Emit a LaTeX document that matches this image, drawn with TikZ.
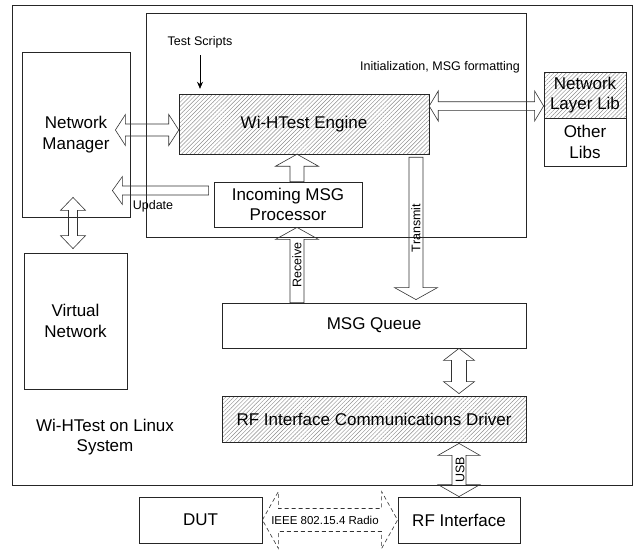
\documentclass[tikz,border=0pt]{standalone}
\usepackage{fontspec}
\setsansfont{Liberation Sans}
\usetikzlibrary{arrows.meta, positioning, calc, patterns.meta}

\newcommand{\bigfont}{\fontsize{17}{20.5}\selectfont}
\newcommand{\smallfont}{\fontsize{12.5}{15}\selectfont}

% outlined block arrows: [style]{from}{to}{shaft half width}{head half width}{head length}
\newcommand{\fatsingle}[6][]{%
  \draw[fat,#1] let \p1=(#2), \p2=(#3), \n1={atan2(\y2-\y1,\x2-\x1)} in
    ($(\p1)+(\n1+90:#4)$) -- ($(\p2)+(\n1+180:#6)+(\n1+90:#4)$) -- ($(\p2)+(\n1+180:#6)+(\n1+90:#5)$) -- (\p2)
    -- ($(\p2)+(\n1+180:#6)+(\n1-90:#5)$) -- ($(\p2)+(\n1+180:#6)+(\n1-90:#4)$) -- ($(\p1)+(\n1-90:#4)$) -- cycle;}
\newcommand{\fatdouble}[6][]{%
  \draw[fat,#1] let \p1=(#2), \p2=(#3), \n1={atan2(\y2-\y1,\x2-\x1)} in
    (\p1) -- ($(\p1)+(\n1:#6)+(\n1+90:#5)$) -- ($(\p1)+(\n1:#6)+(\n1+90:#4)$)
    -- ($(\p2)+(\n1+180:#6)+(\n1+90:#4)$) -- ($(\p2)+(\n1+180:#6)+(\n1+90:#5)$) -- (\p2)
    -- ($(\p2)+(\n1+180:#6)+(\n1-90:#5)$) -- ($(\p2)+(\n1+180:#6)+(\n1-90:#4)$)
    -- ($(\p1)+(\n1:#6)+(\n1-90:#4)$) -- ($(\p1)+(\n1:#6)+(\n1-90:#5)$) -- cycle;}

\begin{document}
\begin{tikzpicture}[
    x=1pt, y=-1pt,
    font=\sffamily\bigfont,
    >=Stealth,
    % Node styles
    block/.style={rectangle, draw=black!85, line width=0.8pt, inner sep=0pt, align=center},
    hatched/.style={block, pattern={Lines[angle=45, distance=2.9pt, line width=0.45pt]}, pattern color=black!45},
    frame/.style={rectangle, draw=black!85, line width=0.8pt, inner sep=0pt},
    lbl/.style={font=\sffamily\smallfont, inner sep=1pt},
    % Edge styles
    fat/.style={draw=black!80, line width=0.6pt, line join=miter},
    arrow/.style={->, line width=0.6pt, draw=black}
]
\useasboundingbox (0,0) rectangle (634,549);

% -----------------------------------------------------------
% Frames: Linux system and Wi-HTest core
% -----------------------------------------------------------
\node[frame, minimum width=620, minimum height=480] (sys) at (322,245) {};
\node[frame, minimum width=380, minimum height=224] (core) at (336,125) {};
\node[align=center] (systxt) at (105,437) {Wi-HTest on Linux\\System};

% -----------------------------------------------------------
% Blocks
% -----------------------------------------------------------
\node[block, minimum width=108, minimum height=165] (nm) at (76,134.5) {Network\\Manager};
\node[block, minimum width=103, minimum height=136] (vn) at (75.5,321) {Virtual\\Network};
\node[hatched, minimum width=250, minimum height=60] (eng) at (304,124) {Wi-HTest Engine};
\node[block, minimum width=148, minimum height=45] (imp) at (288,204.5) {Incoming MSG\\Processor};
\node[hatched, minimum width=82, minimum height=46] (nll) at (585,95) {Network\\Layer Lib};
\node[block, minimum width=82, minimum height=48] (libs) at (585,142) {Other\\Libs};
\node[block, minimum width=304, minimum height=45] (mq) at (374,325.5) {MSG Queue};
\node[hatched, minimum width=304, minimum height=46] (rfd) at (374,419) {RF Interface Communications Driver};
\node[block, minimum width=123, minimum height=46] (dut) at (200.5,520) {DUT};
\node[block, minimum width=122, minimum height=46] (rfi) at (459,520) {RF Interface};

% -----------------------------------------------------------
% Small labels
% -----------------------------------------------------------
\node[lbl] (ts) at (200,42) {Test Scripts};
\node[lbl] (init) at (440,67) {Initialization, MSG formatting};
\node[lbl] (upd) at (153,206) {Update};
\node[lbl, rotate=90] (rcv) at (297,265) {Receive};
\node[lbl, rotate=90] (tx) at (416,228) {Transmit};
\node[lbl, rotate=90] (usb) at (460,470) {USB};
\node[lbl, font=\sffamily\fontsize{11.5}{14}\selectfont] (radio) at (325,520) {IEEE 802.15.4 Radio};

% -----------------------------------------------------------
% Connectors
% -----------------------------------------------------------
\draw[arrow, -{Stealth[length=7pt, width=6pt]}] ($(ts.south)+(0,6)$) -- ($(ts.south |- eng.north)+(0,-5)$);

\fatdouble{$(nm.east)+(-15,-4.5)$}{$(eng.west)+(0,6)$}{6pt}{15.5pt}{10pt}
\fatdouble{$(eng.east)+(0,-18)$}{$(nll.west)+(0,11)$}{4.3pt}{15pt}{9pt}
\fatsingle{$(imp.north)+(9,0)$}{$(eng.south)+(-7,0)$}{7pt}{21.5pt}{12pt}
\fatsingle{$(imp.west)+(-5,-14)$}{$(nm.east)+(-18,56)$}{4.5pt}{14pt}{10pt}
\fatdouble{$(nm.south)+(-3,-20)$}{$(vn.north)+(-2.5,-4)$}{4.5pt}{12.5pt}{13pt}

% Receive / Transmit paths
\fatsingle{$(mq.north)+(-77,0)$}{$(imp.south)+(9,0)$}{7pt}{21.5pt}{12pt}
\fatsingle{$(eng.south)+(112,3)$}{$(mq.north)+(42,-3)$}{7pt}{21.5pt}{12pt}

% Down to the radio
\fatdouble{$(mq.south)+(85,0)$}{$(rfd.north)+(85,-2)$}{7.5pt}{15.5pt}{12pt}
\fatdouble{$(rfd.south)+(85,1)$}{rfi.north}{7pt}{21pt}{12pt}
\fatdouble[dashed, dash pattern=on 4pt off 3pt]{dut.east}{rfi.west}{11.5pt}{28.5pt}{16pt}

\end{tikzpicture}
\end{document}
